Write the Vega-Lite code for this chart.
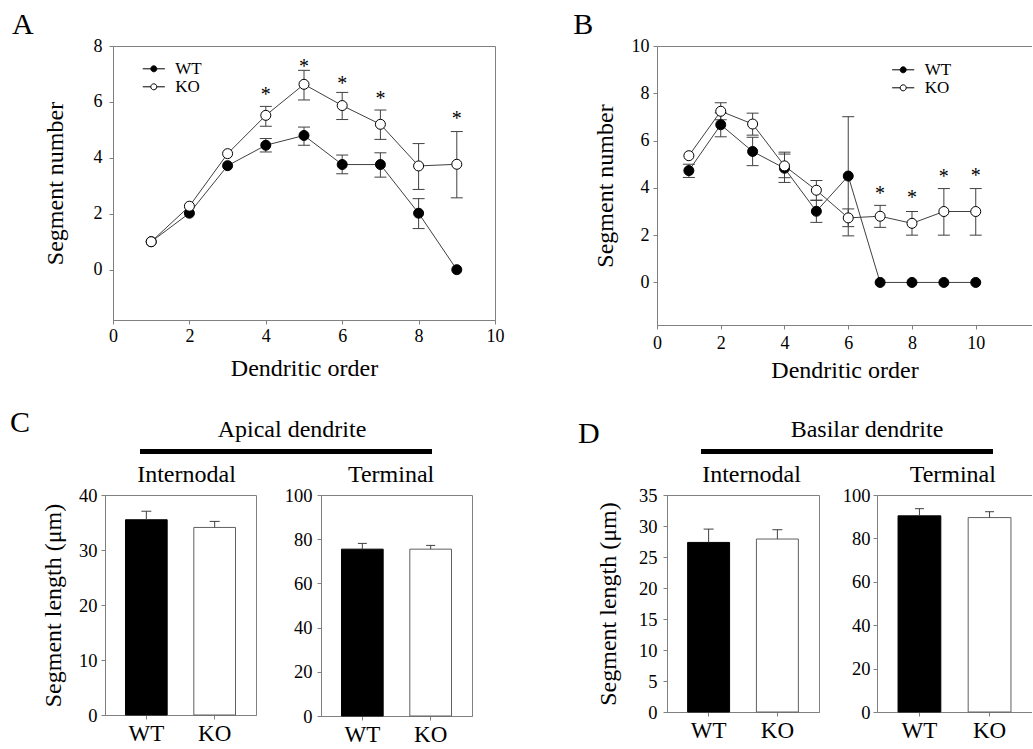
{
  "$schema": "https://vega.github.io/schema/vega-lite/v6.json",
  "padding": {"left": 10, "top": 9, "right": 0, "bottom": 0},
  "autosize": {"type": "pad"},
  "background": "white",
  "config": {
    "font": "Liberation Serif, Times New Roman, serif",
    "view": {"stroke": "#808080", "strokeWidth": 1},
    "axis": {"domainColor": "#808080", "tickColor": "#808080", "tickSize": 4, "labelColor": "black", "titleColor": "black", "labelFont": "Liberation Serif, Times New Roman, serif", "titleFont": "Liberation Serif, Times New Roman, serif", "labelFontSize": 18, "titleFontSize": 24, "titleFontWeight": "normal", "grid": false, "labelFlush": false, "labelOverlap": false},
    "title": {"font": "Liberation Serif, Times New Roman, serif", "fontWeight": "normal", "color": "black", "frame": "group"},
    "legend": {"labelFont": "Liberation Serif, Times New Roman, serif", "labelFontSize": 17, "labelColor": "black"}
  },
  "datasets": {
    "aPts": [
      {"g": "WT", "x": 1, "y": 1}, {"g": "WT", "x": 2, "y": 2.02}, {"g": "WT", "x": 3, "y": 3.72}, {"g": "WT", "x": 4, "y": 4.45}, {"g": "WT", "x": 5, "y": 4.8}, {"g": "WT", "x": 6, "y": 3.76}, {"g": "WT", "x": 7, "y": 3.76}, {"g": "WT", "x": 8, "y": 2.02}, {"g": "WT", "x": 9, "y": 0},
      {"g": "KO", "x": 1, "y": 1}, {"g": "KO", "x": 2, "y": 2.27}, {"g": "KO", "x": 3, "y": 4.15}, {"g": "KO", "x": 4, "y": 5.52}, {"g": "KO", "x": 5, "y": 6.63}, {"g": "KO", "x": 6, "y": 5.87}, {"g": "KO", "x": 7, "y": 5.2}, {"g": "KO", "x": 8, "y": 3.71}, {"g": "KO", "x": 9, "y": 3.77}
    ],
    "aErr": [
      {"g": "WT", "x": 4, "lo": 4.21, "hi": 4.69}, {"g": "WT", "x": 5, "lo": 4.45, "hi": 5.1}, {"g": "WT", "x": 6, "lo": 3.43, "hi": 4.1}, {"g": "WT", "x": 7, "lo": 3.31, "hi": 4.18}, {"g": "WT", "x": 8, "lo": 1.47, "hi": 2.54},
      {"g": "KO", "x": 4, "lo": 5.13, "hi": 5.84}, {"g": "KO", "x": 5, "lo": 6.07, "hi": 7.13}, {"g": "KO", "x": 6, "lo": 5.37, "hi": 6.34}, {"g": "KO", "x": 7, "lo": 4.66, "hi": 5.71}, {"g": "KO", "x": 8, "lo": 2.87, "hi": 4.51}, {"g": "KO", "x": 9, "lo": 2.57, "hi": 4.94}
    ],
    "aStar": [{"x": 4, "y": 6.38}, {"x": 5, "y": 7.4}, {"x": 6, "y": 6.79}, {"x": 7, "y": 6.26}, {"x": 9, "y": 5.53}],
    "bPts": [
      {"g": "WT", "x": 1, "y": 4.73}, {"g": "WT", "x": 2, "y": 6.67}, {"g": "WT", "x": 3, "y": 5.54}, {"g": "WT", "x": 4, "y": 4.83}, {"g": "WT", "x": 5, "y": 3.01}, {"g": "WT", "x": 6, "y": 4.5}, {"g": "WT", "x": 7, "y": 0}, {"g": "WT", "x": 8, "y": 0}, {"g": "WT", "x": 9, "y": 0}, {"g": "WT", "x": 10, "y": 0},
      {"g": "KO", "x": 1, "y": 5.36}, {"g": "KO", "x": 2, "y": 7.24}, {"g": "KO", "x": 3, "y": 6.7}, {"g": "KO", "x": 4, "y": 4.93}, {"g": "KO", "x": 5, "y": 3.9}, {"g": "KO", "x": 6, "y": 2.73}, {"g": "KO", "x": 7, "y": 2.8}, {"g": "KO", "x": 8, "y": 2.5}, {"g": "KO", "x": 9, "y": 3.0}, {"g": "KO", "x": 10, "y": 3.0}
    ],
    "bErr": [
      {"g": "WT", "x": 1, "lo": 4.44, "hi": 5.0}, {"g": "WT", "x": 2, "lo": 6.16, "hi": 7.17}, {"g": "WT", "x": 3, "lo": 4.94, "hi": 6.14}, {"g": "WT", "x": 4, "lo": 4.23, "hi": 5.43}, {"g": "WT", "x": 5, "lo": 2.54, "hi": 3.47}, {"g": "WT", "x": 6, "lo": 1.97, "hi": 7.01},
      {"g": "KO", "x": 2, "lo": 6.88, "hi": 7.6}, {"g": "KO", "x": 3, "lo": 6.23, "hi": 7.16}, {"g": "KO", "x": 4, "lo": 4.43, "hi": 5.51}, {"g": "KO", "x": 5, "lo": 3.48, "hi": 4.31}, {"g": "KO", "x": 6, "lo": 2.36, "hi": 3.11}, {"g": "KO", "x": 7, "lo": 2.33, "hi": 3.26}, {"g": "KO", "x": 8, "lo": 2.0, "hi": 3.0}, {"g": "KO", "x": 9, "lo": 2.0, "hi": 3.97}, {"g": "KO", "x": 10, "lo": 2.0, "hi": 3.97}
    ],
    "bStar": [{"x": 7, "y": 3.89}, {"x": 8, "y": 3.74}, {"x": 9, "y": 4.63}, {"x": 10, "y": 4.67}],
    "c1": [{"g": "WT", "y": 35.5, "hi": 37.05}, {"g": "KO", "y": 34.1, "hi": 35.2}],
    "c2": [{"g": "WT", "y": 75.5, "hi": 78.1}, {"g": "KO", "y": 75.5, "hi": 77.2}],
    "d1": [{"g": "WT", "y": 27.35, "hi": 29.5}, {"g": "KO", "y": 27.9, "hi": 29.4}],
    "d2": [{"g": "WT", "y": 90.4, "hi": 93.7}, {"g": "KO", "y": 89.6, "hi": 92.3}]
  },
  "spacing": 0,
  "vconcat": [
    {
      "hconcat": [
        {"data": {"values": []}, "mark": "point", "width": 103, "height": 360.5, "view": {"stroke": null}},
        {
          "width": 382, "height": 274,
          "title": {"text": "A", "anchor": "start", "dx": -101, "offset": -3.3, "fontSize": 30},
          "layer": [
            {"data": {"name": "aErr"}, "mark": {"type": "rule", "color": "#404040", "strokeWidth": 1},
             "encoding": {
               "x": {"field": "x", "type": "quantitative", "scale": {"domain": [0, 10], "nice": false, "zero": false}, "axis": {"values": [0, 2, 4, 6, 8, 10], "tickCount": 20, "format": "d", "title": "Dendritic order", "labelPadding": 3, "titlePadding": 11}},
               "y": {"field": "lo", "type": "quantitative", "scale": {"domain": [-1.8, 8], "nice": false, "zero": false}, "axis": {"values": [0, 2, 4, 6, 8], "tickCount": 20, "format": "d", "title": "Segment number", "labelPadding": 7, "titlePadding": 26}},
               "y2": {"field": "hi"}}},
            {"data": {"name": "aErr"}, "mark": {"type": "tick", "orient": "horizontal", "size": 12, "thickness": 1, "color": "#404040", "opacity": 1},
             "encoding": {"x": {"field": "x", "type": "quantitative"}, "y": {"field": "lo", "type": "quantitative"}}},
            {"data": {"name": "aErr"}, "mark": {"type": "tick", "orient": "horizontal", "size": 12, "thickness": 1, "color": "#404040", "opacity": 1},
             "encoding": {"x": {"field": "x", "type": "quantitative"}, "y": {"field": "hi", "type": "quantitative"}}},
            {"data": {"name": "aPts"}, "mark": {"type": "line", "color": "#404040", "strokeWidth": 1},
             "encoding": {"x": {"field": "x", "type": "quantitative"}, "y": {"field": "y", "type": "quantitative"}, "detail": {"field": "g", "type": "nominal"}}},
            {"data": {"name": "aPts"}, "mark": {"type": "point", "filled": true, "size": 100, "stroke": "black", "strokeWidth": 1, "opacity": 1},
             "encoding": {"x": {"field": "x", "type": "quantitative"}, "y": {"field": "y", "type": "quantitative"},
               "fill": {"field": "g", "type": "nominal", "scale": {"domain": ["WT", "KO"], "range": ["black", "white"]},
                 "legend": {"orient": "none", "legendX": 31.8, "legendY": 13.8, "title": null, "padding": 0, "symbolType": "M-1.3,0L-0.353,0M0.353,0L1.3,0M0.353,0A0.353,0.353,0,1,1,-0.353,0A0.353,0.353,0,1,1,0.353,0Z", "symbolSize": 289, "symbolStrokeColor": "black", "symbolStrokeWidth": 1, "labelOffset": 12.5, "rowPadding": 1, "labelFontSize": 17}}}},
            {"data": {"name": "aStar"}, "mark": {"type": "text", "text": "*", "fontSize": 20, "baseline": "alphabetic", "dy": 10, "color": "black"},
             "encoding": {"x": {"field": "x", "type": "quantitative"}, "y": {"field": "y", "type": "quantitative"}}}
          ]
        },
        {"data": {"values": []}, "mark": "point", "width": 162, "height": 1, "view": {"stroke": null}},
        {
          "width": 375, "height": 279,
          "view": {"stroke": null},
          "title": {"text": "B", "anchor": "start", "dx": -83.7, "offset": -3.3, "fontSize": 30},
          "resolve": {"axis": {"x": "independent"}},
          "layer": [
            {"data": {"name": "bErr"}, "mark": {"type": "rule", "color": "#404040", "strokeWidth": 1},
             "encoding": {
               "x": {"field": "x", "type": "quantitative", "scale": {"domain": [0, 11.765], "nice": false, "zero": false}, "axis": {"values": [0, 2, 4, 6, 8, 10], "tickCount": 20, "format": "d", "title": "Dendritic order", "labelPadding": 5, "titlePadding": 6}},
               "y": {"field": "lo", "type": "quantitative", "scale": {"domain": [-1.8, 10], "nice": false, "zero": false}, "axis": {"values": [0, 2, 4, 6, 8, 10], "tickCount": 20, "format": "d", "title": "Segment number", "labelPadding": 4, "titlePadding": 14}},
               "y2": {"field": "hi"}}},
            {"data": {"name": "bErr"}, "mark": {"type": "tick", "orient": "horizontal", "size": 12, "thickness": 1, "color": "#404040", "opacity": 1},
             "encoding": {"x": {"field": "x", "type": "quantitative", "axis": null}, "y": {"field": "lo", "type": "quantitative"}}},
            {"data": {"name": "bErr"}, "mark": {"type": "tick", "orient": "horizontal", "size": 12, "thickness": 1, "color": "#404040", "opacity": 1},
             "encoding": {"x": {"field": "x", "type": "quantitative", "axis": null}, "y": {"field": "hi", "type": "quantitative"}}},
            {"data": {"name": "bPts"}, "mark": {"type": "line", "color": "#404040", "strokeWidth": 1},
             "encoding": {"x": {"field": "x", "type": "quantitative", "axis": {"orient": "top", "labels": false, "ticks": false, "title": null, "domain": true}}, "y": {"field": "y", "type": "quantitative"}, "detail": {"field": "g", "type": "nominal"}}},
            {"data": {"name": "bPts"}, "mark": {"type": "point", "filled": true, "size": 100, "stroke": "black", "strokeWidth": 1, "opacity": 1},
             "encoding": {"x": {"field": "x", "type": "quantitative", "axis": null}, "y": {"field": "y", "type": "quantitative"},
               "fill": {"field": "g", "type": "nominal", "scale": {"domain": ["WT", "KO"], "range": ["black", "white"]},
                 "legend": {"orient": "none", "legendX": 237.2, "legendY": 14.8, "title": null, "padding": 0, "symbolType": "M-1.3,0L-0.353,0M0.353,0L1.3,0M0.353,0A0.353,0.353,0,1,1,-0.353,0A0.353,0.353,0,1,1,0.353,0Z", "symbolSize": 289, "symbolStrokeColor": "black", "symbolStrokeWidth": 1, "labelOffset": 12.5, "rowPadding": 1, "labelFontSize": 17}}}},
            {"data": {"name": "bStar"}, "mark": {"type": "text", "text": "*", "fontSize": 20, "baseline": "alphabetic", "dy": 10, "color": "black"},
             "encoding": {"x": {"field": "x", "type": "quantitative", "axis": null}, "y": {"field": "y", "type": "quantitative"}}}
          ]
        }
      ],
      "spacing": 0,
      "bounds": "flush",
      "resolve": {"scale": {"fill": "independent"}, "legend": {"fill": "independent"}}
    },
    {
      "hconcat": [
        {"data": {"values": []}, "mark": "point", "width": 130, "height": 12.8, "view": {"stroke": null},
         "title": {"text": "C", "anchor": "start", "offset": 11.2, "fontSize": 30}},
        {"data": {"values": []}, "mark": "point", "width": 292, "height": 5, "view": {"stroke": null, "fill": "black"},
         "title": {"text": "Apical dendrite", "anchor": "middle", "dx": 6, "offset": 6.8, "fontSize": 24}},
        {"data": {"values": []}, "mark": "point", "width": 269, "height": 12.8, "view": {"stroke": null},
         "title": {"text": "D", "anchor": "start", "dx": 146, "offset": 0.2, "fontSize": 30}},
        {"data": {"values": []}, "mark": "point", "width": 292, "height": 5, "view": {"stroke": null, "fill": "black"},
         "title": {"text": "Basilar dendrite", "anchor": "middle", "dx": 20, "offset": 7.2, "fontSize": 24}}
      ],
      "spacing": 0,
      "bounds": "flush"
    },
    {
      "hconcat": [
        {"data": {"values": []}, "mark": "point", "width": 95, "height": 1, "view": {"stroke": null}},
        {
          "width": 151, "height": 220,
          "data": {"name": "c1"},
          "title": {"text": "Internodal", "anchor": "middle", "dx": 6, "offset": -1.3, "fontSize": 24},
          "layer": [
            {"mark": {"type": "bar", "strokeWidth": 1},
             "encoding": {
               "x": {"field": "g", "type": "nominal", "sort": ["WT", "KO"], "scale": {"paddingInner": 0.39, "paddingOuter": 0.3}, "axis": {"title": null, "labelAngle": 0, "labelFontSize": 23, "labelPadding": 3}},
               "y": {"field": "y", "type": "quantitative", "scale": {"domain": [0, 40], "nice": false}, "axis": {"values": [0, 10, 20, 30, 40], "tickCount": 20, "format": "d", "title": "Segment length (μm)", "labelFontSize": 18.5, "labelPadding": 4, "titlePadding": 13}},
               "fill": {"condition": {"test": "datum.g === 'WT'", "value": "black"}, "value": "white"},
               "stroke": {"condition": {"test": "datum.g === 'WT'", "value": "black"}, "value": "#606060"}}},
            {"mark": {"type": "rule", "color": "#404040"},
             "encoding": {"x": {"field": "g", "type": "nominal", "sort": ["WT", "KO"]}, "y": {"field": "y", "type": "quantitative"}, "y2": {"field": "hi"}}},
            {"mark": {"type": "tick", "orient": "horizontal", "size": 10, "thickness": 1, "color": "#404040", "opacity": 1},
             "encoding": {"x": {"field": "g", "type": "nominal", "sort": ["WT", "KO"]}, "y": {"field": "hi", "type": "quantitative"}}}
          ]
        },
        {"data": {"values": []}, "mark": "point", "width": 65, "height": 1, "view": {"stroke": null}},
        {
          "width": 151, "height": 221,
          "data": {"name": "c2"},
          "title": {"text": "Terminal", "anchor": "middle", "dx": -5.4, "offset": -1.3, "fontSize": 24},
          "layer": [
            {"mark": {"type": "bar", "strokeWidth": 1},
             "encoding": {
               "x": {"field": "g", "type": "nominal", "sort": ["WT", "KO"], "scale": {"paddingInner": 0.39, "paddingOuter": 0.3}, "axis": {"title": null, "labelAngle": 0, "labelFontSize": 23, "labelPadding": 3}},
               "y": {"field": "y", "type": "quantitative", "scale": {"domain": [0, 100], "nice": false}, "axis": {"values": [0, 20, 40, 60, 80, 100], "tickCount": 20, "format": "d", "title": null, "labelFontSize": 18.5, "labelPadding": 5}},
               "fill": {"condition": {"test": "datum.g === 'WT'", "value": "black"}, "value": "white"},
               "stroke": {"condition": {"test": "datum.g === 'WT'", "value": "black"}, "value": "#606060"}}},
            {"mark": {"type": "rule", "color": "#404040"},
             "encoding": {"x": {"field": "g", "type": "nominal", "sort": ["WT", "KO"]}, "y": {"field": "y", "type": "quantitative"}, "y2": {"field": "hi"}}},
            {"mark": {"type": "tick", "orient": "horizontal", "size": 9, "thickness": 1, "color": "#404040", "opacity": 1},
             "encoding": {"x": {"field": "g", "type": "nominal", "sort": ["WT", "KO"]}, "y": {"field": "hi", "type": "quantitative"}}}
          ]
        },
        {"data": {"values": []}, "mark": "point", "width": 195, "height": 1, "view": {"stroke": null}},
        {
          "width": 152, "height": 217,
          "data": {"name": "d1"},
          "title": {"text": "Internodal", "anchor": "middle", "dx": 8.5, "offset": -1.3, "fontSize": 24},
          "layer": [
            {"mark": {"type": "bar", "strokeWidth": 1},
             "encoding": {
               "x": {"field": "g", "type": "nominal", "sort": ["WT", "KO"], "scale": {"paddingInner": 0.39, "paddingOuter": 0.3}, "axis": {"title": null, "labelAngle": 0, "labelFontSize": 23, "labelPadding": 3}},
               "y": {"field": "y", "type": "quantitative", "scale": {"domain": [0, 35], "nice": false}, "axis": {"values": [0, 5, 10, 15, 20, 25, 30, 35], "tickCount": 20, "format": "d", "title": "Segment length (μm)", "labelFontSize": 18.5, "labelPadding": 6, "titlePadding": 18, "labelOverlap": false}},
               "fill": {"condition": {"test": "datum.g === 'WT'", "value": "black"}, "value": "white"},
               "stroke": {"condition": {"test": "datum.g === 'WT'", "value": "black"}, "value": "#606060"}}},
            {"mark": {"type": "rule", "color": "#404040"},
             "encoding": {"x": {"field": "g", "type": "nominal", "sort": ["WT", "KO"]}, "y": {"field": "y", "type": "quantitative"}, "y2": {"field": "hi"}}},
            {"mark": {"type": "tick", "orient": "horizontal", "size": 10, "thickness": 1, "color": "#404040", "opacity": 1},
             "encoding": {"x": {"field": "g", "type": "nominal", "sort": ["WT", "KO"]}, "y": {"field": "hi", "type": "quantitative"}}}
          ]
        },
        {"data": {"values": []}, "mark": "point", "width": 58, "height": 1, "view": {"stroke": null}},
        {
          "width": 155, "height": 217,
          "data": {"name": "d2"},
          "view": {"stroke": null},
          "title": {"text": "Terminal", "anchor": "middle", "dx": -1.7, "offset": -1.3, "fontSize": 24},
          "resolve": {"axis": {"x": "independent"}},
          "layer": [
            {"mark": {"type": "bar", "strokeWidth": 1},
             "encoding": {
               "x": {"field": "g", "type": "nominal", "sort": ["WT", "KO"], "scale": {"paddingInner": 0.39, "paddingOuter": 0.3}, "axis": {"title": null, "labelAngle": 0, "labelFontSize": 23, "labelPadding": 3}},
               "y": {"field": "y", "type": "quantitative", "scale": {"domain": [0, 100], "nice": false}, "axis": {"values": [0, 20, 40, 60, 80, 100], "tickCount": 20, "format": "d", "title": null, "labelFontSize": 18.5, "labelPadding": 3}},
               "fill": {"condition": {"test": "datum.g === 'WT'", "value": "black"}, "value": "white"},
               "stroke": {"condition": {"test": "datum.g === 'WT'", "value": "black"}, "value": "#606060"}}},
            {"mark": {"type": "rule", "color": "#404040"},
             "encoding": {"x": {"field": "g", "type": "nominal", "sort": ["WT", "KO"], "axis": null}, "y": {"field": "y", "type": "quantitative"}, "y2": {"field": "hi"}}},
            {"mark": {"type": "tick", "orient": "horizontal", "size": 9, "thickness": 1, "color": "#404040", "opacity": 1},
             "encoding": {"x": {"field": "g", "type": "nominal", "sort": ["WT", "KO"], "axis": {"orient": "top", "labels": false, "ticks": false, "title": null, "domain": true}}, "y": {"field": "hi", "type": "quantitative"}}}
          ]
        }
      ],
      "spacing": 0,
      "bounds": "flush"
    }
  ]
}
